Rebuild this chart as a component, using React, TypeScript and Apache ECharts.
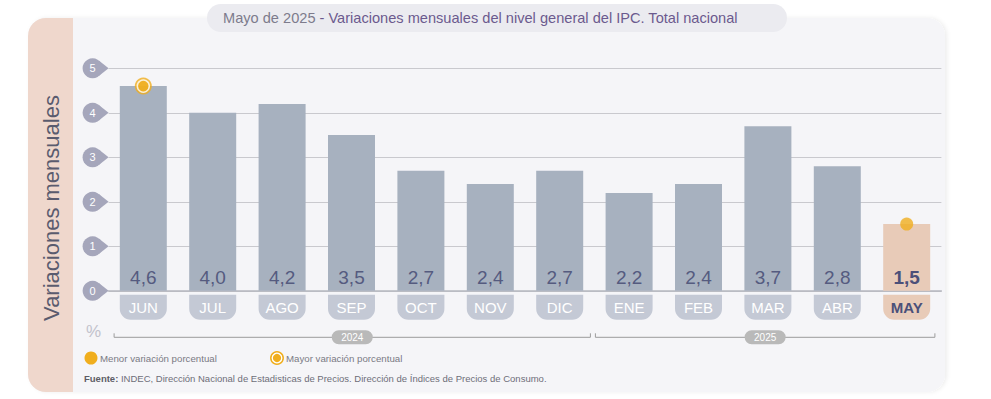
import React, { useEffect, useRef } from "react";
import * as echarts from "echarts";

const months = ["JUN", "JUL", "AGO", "SEP", "OCT", "NOV", "DIC", "ENE", "FEB", "MAR", "ABR", "MAY"];
const values = [4.6, 4.0, 4.2, 3.5, 2.7, 2.4, 2.7, 2.2, 2.4, 3.7, 2.8, 1.5];
const yTicks = [0, 1, 2, 3, 4, 5];
const yearLabels = ["2024", "2025"];
const yearFrom = [0, 7];
const yearTo = [6, 11];
const highlightMonth = "MAY";
const titleLead = "Mayo de 2025";
const titleMain = "- Variaciones mensuales del nivel general del IPC. Total nacional";
const yTitle = "Variaciones mensuales";
const legendMin = "Menor variación porcentual";
const legendMax = "Mayor variación porcentual";
const sourceLead = "Fuente:";
const sourceText = " INDEC, Dirección Nacional de Estadisticas de Precios. Dirección de Índices de Precios de Consumo.";

const FONT = "'Liberation Sans', Arial, Helvetica, sans-serif";
const ORANGE = "#f0ae1e";
const BAR = "#a7b1bf";
const PEACH = "#e8cbb8";
const DARK = "#555b7f";

const fmt = (v: number) => v.toFixed(1).replace(".", ",");

export default function App() {
  const ref = useRef<HTMLDivElement>(null);
  useEffect(() => {
    if (!ref.current) return;
    const chart = echarts.init(ref.current, undefined, { renderer: "svg" });
    const maxIdx = values.indexOf(Math.max(...values));
    const lastIdx = values.length - 1;

    const option: any = {
      animation: false,
      textStyle: { fontFamily: FONT },
      grid: { left: 108.6, right: 49.6, top: 68.3, bottom: 108.2 },
      xAxis: {
        type: "category",
        data: months,
        axisLine: { show: true, lineStyle: { color: "#b5b7bf", width: 1.5 } },
        axisTick: { show: false },
        axisLabel: {
          interval: 0,
          margin: 4,
          formatter: (v: string) => (v === highlightMonth ? `{hl|${v}}` : `{m|${v}}`),
          rich: {
            m: {
              width: 47,
              height: 25,
              lineHeight: 25,
              align: "center",
              backgroundColor: "#c4c9d5",
              borderRadius: [0, 0, 11, 11],
              color: "#ffffff",
              fontSize: 15,
              fontFamily: FONT,
            },
            hl: {
              width: 47,
              height: 25,
              lineHeight: 25,
              align: "center",
              backgroundColor: PEACH,
              borderRadius: [0, 0, 11, 11],
              color: "#4b5079",
              fontSize: 15,
              fontWeight: "bold",
              fontFamily: FONT,
            },
          },
        },
      },
      yAxis: {
        type: "value",
        min: 0,
        max: 5,
        interval: 1,
        axisLabel: { show: false },
        axisLine: { show: false },
        axisTick: { show: false },
        splitLine: { lineStyle: { color: "#c9c9ce", width: 1 } },
      },
      series: [
        {
          type: "bar",
          barWidth: 47,
          data: values.map((v, i) => ({
            value: v,
            itemStyle: { color: months[i] === highlightMonth ? PEACH : BAR },
            label: months[i] === highlightMonth ? { fontWeight: "bold", color: "#4b5079" } : undefined,
          })),
          label: {
            show: true,
            position: "insideBottom",
            distance: 4,
            fontSize: 19,
            color: DARK,
            fontFamily: FONT,
            formatter: (p: any) => fmt(p.value),
          },
          z: 2,
        },
        {
          type: "scatter",
          data: [[maxIdx, values[maxIdx]]],
          symbol: "circle",
          symbolSize: 17,
          itemStyle: { color: ORANGE },
          z: 5,
        },
        {
          type: "scatter",
          data: [[maxIdx, values[maxIdx]]],
          symbol: "circle",
          symbolSize: 12,
          itemStyle: { color: ORANGE, borderColor: "#ffffff", borderWidth: 1.5 },
          z: 6,
        },
        {
          type: "scatter",
          data: [[lastIdx, values[lastIdx]]],
          symbol: "circle",
          symbolSize: 13,
          itemStyle: { color: ORANGE },
          z: 5,
        },
        {
          type: "custom",
          data: yTicks.map((v) => [0, v]),
          encode: { x: 0, y: 1 },
          clip: false,
          z: 6,
          renderItem: (params: any, api: any) => {
            const v = api.value(1);
            const y = api.coord([0, v])[1];
            const x0 = params.coordSys.x;
            const cx = x0 - 16;
            return {
              type: "group",
              children: [
                {
                  type: "polygon",
                  shape: { points: [[cx + 6.2, y - 7.8], [x0, y], [cx + 6.2, y + 7.8]] },
                  style: { fill: "#a5a6bb" },
                },
                { type: "circle", shape: { cx, cy: y, r: 10 }, style: { fill: "#a5a6bb" } },
                {
                  type: "text",
                  x: cx,
                  y: y,
                  style: {
                    text: String(v),
                    fill: "#ffffff",
                    fontSize: 11,
                    fontFamily: FONT,
                    align: "center",
                    verticalAlign: "middle",
                  },
                },
              ],
            };
          },
        },
        {
          type: "custom",
          data: yearLabels.map((_, i) => [yearFrom[i], 0, yearTo[i]]),
          encode: { x: 0, y: 1 },
          clip: false,
          z: 6,
          renderItem: (params: any, api: any) => {
            const i = params.dataIndex;
            const band = api.size([1, 0])[0];
            const base = api.coord([api.value(0), 0]);
            const end = api.coord([api.value(2), 0]);
            const x1 = base[0] - band / 2 + (i === 0 ? 5.5 : 1);
            const x2 = end[0] + band / 2 - (i === 0 ? 4 : 6.5);
            const y = base[1] + 46.5;
            const mid = (x1 + x2) / 2;
            return {
              type: "group",
              children: [
                {
                  type: "polyline",
                  shape: { points: [[x1, y - 4], [x1, y], [x2, y], [x2, y - 4]] },
                  style: { stroke: "#9c9c9c", lineWidth: 1, fill: "none" },
                },
                {
                  type: "rect",
                  shape: { x: mid - 20.5, y: y - 7, width: 41, height: 14, r: 7 },
                  style: { fill: "#b9b9b9" },
                },
                {
                  type: "text",
                  x: mid,
                  y: y,
                  style: {
                    text: yearLabels[i],
                    fill: "#ffffff",
                    fontSize: 10,
                    fontFamily: FONT,
                    align: "center",
                    verticalAlign: "middle",
                  },
                },
              ],
            };
          },
        },
      ],
      graphic: [
        {
          type: "rect",
          z: -10,
          shape: { x: 28, y: 18, width: 917, height: 374, r: 18 },
          style: { fill: "#f5f5f8", shadowBlur: 4, shadowColor: "rgba(0,0,0,0.07)", shadowOffsetX: 2 },
        },
        {
          type: "rect",
          z: -9,
          shape: { x: 28, y: 18, width: 45, height: 374, r: [18, 0, 0, 18] },
          style: { fill: "#efd7cc" },
        },
        {
          type: "rect",
          z: -8,
          shape: { x: 207, y: 4, width: 580, height: 28, r: 14 },
          style: { fill: "#ebebf0" },
        },
        {
          type: "text",
          x: 223,
          y: 18,
          style: {
            text: `{a|${titleLead}} {b|${titleMain}}`,
            align: "left",
            verticalAlign: "middle",
            textAlign: "left",
            textVerticalAlign: "middle",
            fontFamily: FONT,
            fontSize: 14.6,
            rich: {
              a: { fill: "#7d7b8c", fontSize: 14.6, fontFamily: FONT },
              b: { fill: "#6b5a8e", fontSize: 14.6, fontFamily: FONT },
            },
          },
        },
        {
          type: "text",
          x: 51,
          y: 208,
          rotation: Math.PI / 2,
          style: {
            text: yTitle,
            fill: "#5a5b6e",
            fontSize: 22,
            fontFamily: FONT,
            align: "center",
            verticalAlign: "middle",
            textAlign: "center",
            textVerticalAlign: "middle",
          },
        },
        {
          type: "text",
          x: 86,
          y: 331,
          style: {
            text: "%",
            fill: "#c2c2cc",
            fontSize: 17,
            fontFamily: FONT,
            align: "left",
            verticalAlign: "middle",
            textAlign: "left",
            textVerticalAlign: "middle",
          },
        },
        { type: "circle", shape: { cx: 91, cy: 358, r: 6.5 }, style: { fill: ORANGE } },
        {
          type: "text",
          x: 100,
          y: 358,
          style: {
            text: legendMin,
            fill: "#7a7a84",
            fontSize: 9.7,
            fontFamily: FONT,
            align: "left",
            verticalAlign: "middle",
            textAlign: "left",
            textVerticalAlign: "middle",
          },
        },
        { type: "circle", shape: { cx: 277, cy: 358, r: 7 }, style: { fill: ORANGE } },
        {
          type: "circle",
          shape: { cx: 277, cy: 358, r: 4.8 },
          style: { fill: ORANGE, stroke: "#ffffff", lineWidth: 1.3 },
        },
        {
          type: "text",
          x: 286,
          y: 358,
          style: {
            text: legendMax,
            fill: "#7a7a84",
            fontSize: 9.7,
            fontFamily: FONT,
            align: "left",
            verticalAlign: "middle",
            textAlign: "left",
            textVerticalAlign: "middle",
          },
        },
        {
          type: "text",
          x: 84,
          y: 378,
          style: {
            text: `{a|${sourceLead}}{b|${sourceText}}`,
            align: "left",
            verticalAlign: "middle",
            textAlign: "left",
            textVerticalAlign: "middle",
            fontFamily: FONT,
            fontSize: 9.5,
            rich: {
              a: { fill: "#5d5d66", fontSize: 9.5, fontWeight: "bold", fontFamily: FONT },
              b: { fill: "#6e6e78", fontSize: 9.5, fontFamily: FONT },
            },
          },
        },
      ],
    };

    chart.setOption(option);
    return () => chart.dispose();
  }, []);

  return (
    <div
      ref={ref}
      style={{ position: "absolute", left: 0, top: 0, width: 991, height: 399, background: "#ffffff" }}
    />
  );
}
